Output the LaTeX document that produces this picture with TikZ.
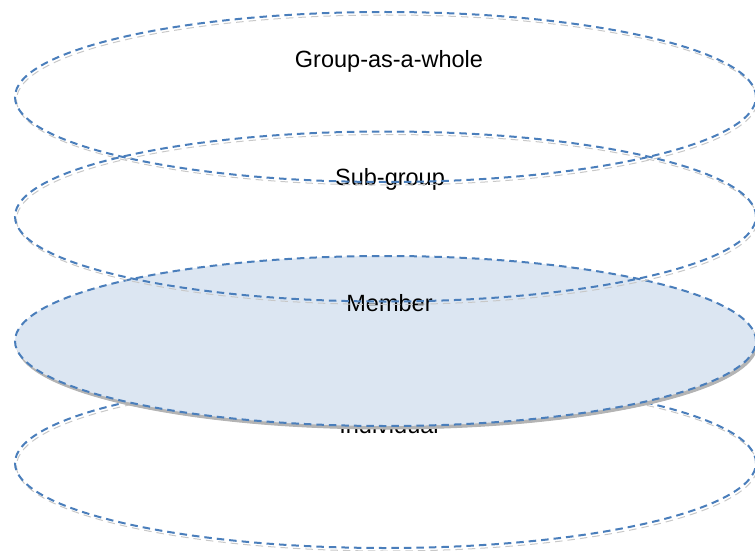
\documentclass[tikz,border=0pt]{standalone}
\usepackage{fontspec}
\setmainfont{Liberation Sans}
\usetikzlibrary{shapes.geometric}
\definecolor{ringblue}{HTML}{4A7EBB}
\definecolor{ringshade}{HTML}{C8C8C8}
\definecolor{memberfill}{HTML}{DCE6F2}
\definecolor{membershade}{HTML}{B4B4B4}
\tikzset{
  ring/.style={ellipse, inner sep=0pt, minimum width=741pt, minimum height=170pt,
    draw=ringblue, line width=2pt, dash pattern=on 7.5pt off 5pt},
  ringshadow/.style={ellipse, inner sep=0pt, minimum width=741pt, minimum height=170pt,
    draw=ringshade, line width=1pt, dash pattern=on 7.5pt off 5pt},
  memberring/.style={ring, fill=memberfill},
  membershadow/.style={ellipse, inner sep=0pt, minimum width=741pt, minimum height=170pt,
    fill=membershade, draw=membershade, line width=1pt},
  levellabel/.style={anchor=base, inner sep=0pt, font=\fontsize{23.5}{28}\selectfont}
}
\begin{document}
\begin{tikzpicture}[x=1pt, y=-1pt]
  \useasboundingbox (0,0) rectangle (755,551);
  % lowest level: the individual, partly covered by the member ring
  \node[levellabel] (tIndividual) at (389,433) {Individual};
  \node[ringshadow] (sIndividual) at (387,466) {};
  \node[ring] (eIndividual) at (385.5,463) {};
  % the member ring, filled, with its shadow
  \node[membershadow] (sMember) at (387,344) {};
  \node[memberring] (eMember) at (385.5,341) {};
  % labels of the upper levels
  \node[levellabel] (tGroup) at (389,67) {Group-as-a-whole};
  \node[levellabel] (tSub) at (390,185) {Sub-group};
  \node[levellabel] (tMember) at (389.5,311) {Member};
  % the two upper rings, outlines only
  \node[ringshadow] (sGroup) at (387,100) {};
  \node[ring] (eGroup) at (385.5,97) {};
  \node[ringshadow] (sSub) at (387,219.5) {};
  \node[ring] (eSub) at (385.5,216.5) {};
\end{tikzpicture}
\end{document}
